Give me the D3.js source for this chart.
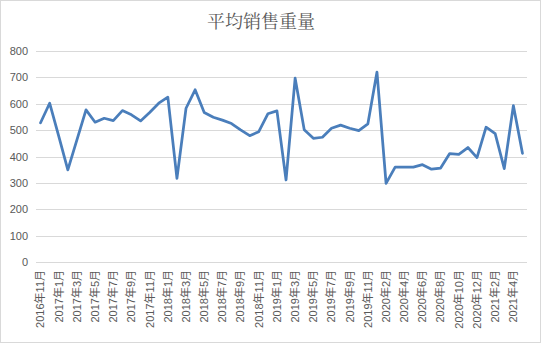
<!DOCTYPE html>
<html><head><meta charset="utf-8">
<script src="https://cdn.jsdelivr.net/npm/d3@7"></script>
<style>
html,body{margin:0;padding:0;background:#fff;}
svg{display:block;}
</style></head>
<body><svg id="c" width="543" height="345"></svg>
<script>
const title = "平均销售重量";
const categories = [
 "2016年11月","2016年12月",
 "2017年1月","2017年2月","2017年3月","2017年4月","2017年5月","2017年6月","2017年7月","2017年8月","2017年9月","2017年10月","2017年11月","2017年12月",
 "2018年1月","2018年2月","2018年3月","2018年4月","2018年5月","2018年6月","2018年7月","2018年8月","2018年9月","2018年10月","2018年11月","2018年12月",
 "2019年1月","2019年2月","2019年3月","2019年4月","2019年5月","2019年6月","2019年7月","2019年8月","2019年9月","2019年10月","2019年11月","2019年12月",
 "2020年2月","2020年3月","2020年4月","2020年5月","2020年6月","2020年7月","2020年8月","2020年9月","2020年10月","2020年11月","2020年12月",
 "2021年1月","2021年2月","2021年3月","2021年4月","2021年5月"
];
const values = [
 528,602,
 477,349,463,577,530,545,536,574,558,535,567,602,
 625,317,583,653,567,549,538,525,501,479,494,562,
 573,311,697,501,469,473,507,519,507,498,524,720,
 298,360,360,360,369,352,356,411,408,434,396,
 511,487,354,593,412
];
const yTicks = [0,100,200,300,400,500,600,700,800];

const svg = d3.select("#c");
const W = 543, H = 345;
const m = {left:36, right:16, top:51, bottom:83};

svg.append("rect").attr("x",0.5).attr("y",0.5).attr("width",W-3).attr("height",H-3)
  .attr("fill","#fff").attr("stroke","#d9d9d9").attr("stroke-width",1);

svg.append("text").attr("x",261).attr("y",28).attr("text-anchor","middle")
  .attr("font-family","'Noto Serif CJK SC','Noto Sans CJK SC', serif").attr("font-size",18)
  .attr("fill","#595959").text(title);

const x = d3.scaleBand().domain(categories).range([m.left, W-m.right]).paddingInner(0).paddingOuter(0);
const y = d3.scaleLinear().domain([0,800]).range([H-m.bottom, m.top]);

const grid = svg.append("g");
grid.selectAll("line").data(yTicks).join("line")
  .attr("x1",m.left).attr("x2",W-m.right)
  .attr("y1",d=>Math.round(y(d))+0.5).attr("y2",d=>Math.round(y(d))+0.5)
  .attr("stroke","#d9d9d9").attr("stroke-width",1);

const yAxis = svg.append("g").attr("transform",`translate(${m.left-8},0)`)
  .call(d3.axisLeft(y).tickValues(yTicks).tickSize(0).tickPadding(0));
yAxis.select(".domain").remove();
yAxis.selectAll("text").attr("font-family","'Liberation Sans', Arial, sans-serif")
  .attr("font-size",11).attr("fill","#595959");

const xAxis = svg.append("g").attr("transform",`translate(0,${H-m.bottom})`)
  .call(d3.axisBottom(x).tickValues(categories.filter((d,i)=>i%2===0)).tickSize(0).tickPadding(0));
xAxis.select(".domain").remove();
xAxis.selectAll("text")
  .attr("font-family","'Liberation Sans','Noto Sans CJK SC', sans-serif")
  .attr("font-size",11).attr("fill","#595959")
  .attr("text-anchor","end")
  .attr("transform","rotate(-90)")
  .attr("x",-8).attr("y",0).attr("dy","0.35em");

const line = d3.line().x((d,i)=>x(categories[i])+x.bandwidth()/2).y(d=>y(d));
svg.append("path").datum(values).attr("d",line)
  .attr("fill","none").attr("stroke","#4a7ebb").attr("stroke-width",2.75)
  .attr("stroke-linejoin","round").attr("stroke-linecap","round");
</script></body></html>
